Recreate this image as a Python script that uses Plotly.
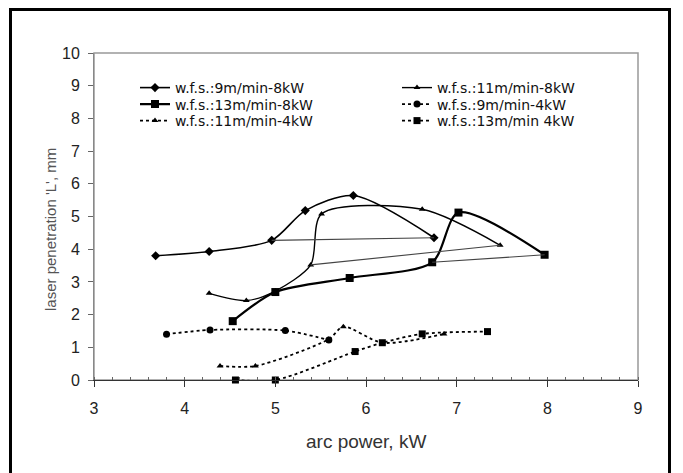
import plotly.graph_objects as go

# ---- data ----
x_9m_8kw = [3.68, 4.27, 4.96, 5.33, 5.86, 6.75]
y_9m_8kw = [3.80, 3.93, 4.27, 5.18, 5.64, 4.35]
x_11m_8kw = [4.27, 4.68, 5.00, 5.39, 5.51, 6.62, 7.48]
y_11m_8kw = [2.65, 2.43, 2.72, 3.52, 5.08, 5.22, 4.12]
x_13m_8kw = [4.53, 5.00, 5.82, 6.73, 7.02, 7.97]
y_13m_8kw = [1.80, 2.69, 3.12, 3.60, 5.12, 3.83]
x_9m_4kw = [3.80, 4.28, 5.11, 5.59]
y_9m_4kw = [1.40, 1.53, 1.51, 1.22]
x_11m_4kw = [4.39, 4.78, 5.59, 5.75, 6.18, 6.86]
y_11m_4kw = [0.43, 0.43, 1.25, 1.63, 1.14, 1.41]
x_13m_4kw = [4.56, 5.00, 5.88, 6.18, 6.62, 7.34]
y_13m_4kw = [0.00, 0.00, 0.87, 1.14, 1.41, 1.48]
# index of the point each 8 kW curve returns to after its last point
return_idx_8kw = [2, 3, 3]

names = ["w.f.s.:9m/min-8kW", "w.f.s.:11m/min-8kW", "w.f.s.:13m/min-8kW",
         "w.f.s.:9m/min-4kW", "w.f.s.:11m/min-4kW", "w.f.s.:13m/min 4kW"]
x_ticks = [3, 4, 5, 6, 7, 8, 9]
y_ticks = list(range(0, 11))

W, H = 683, 473
L, R, T, B = 94, 45, 53, 93
pw, ph = W - L - R, H - T - B

FONT = "Liberation Sans, Arial, sans-serif"
LEG_FONT = "DejaVu Sans, sans-serif"


def px_x(p):
    return (p - L) / pw


def px_y(p):
    return (H - B - p) / ph


series = [
    (x_9m_8kw, y_9m_8kw, "solid", 1.6, "diamond", 7),
    (x_11m_8kw, y_11m_8kw, "solid", 1.4, "triangle-up", 6),
    (x_13m_8kw, y_13m_8kw, "solid", 2.2, "square", 8),
    (x_9m_4kw, y_9m_4kw, "dot", 1.8, "circle", 7),
    (x_11m_4kw, y_11m_4kw, "dot", 1.8, "triangle-up", 6),
    (x_13m_4kw, y_13m_4kw, "dot", 1.8, "square", 7),
]

fig = go.Figure()
legend_ids = ["legend", "legend2", "legend3", "legend4", "legend5", "legend6"]
for i, (xs, ys, dash, lw, sym, ms) in enumerate(series):
    fig.add_trace(go.Scatter(
        x=xs, y=ys, mode="lines+markers", name=names[i],
        line=dict(color="black", width=lw, dash=dash, shape="spline", smoothing=0.8),
        marker=dict(symbol=sym, size=ms, color="black"),
        cliponaxis=False, legend=legend_ids[i],
    ))

# return segments of the 8 kW curves
for (xs, ys, dash, lw, sym, ms), k in zip(series[:3], return_idx_8kw):
    fig.add_trace(go.Scatter(
        x=[xs[-1], xs[k]], y=[ys[-1], ys[k]], mode="lines",
        line=dict(color="#444", width=1.1), showlegend=False, hoverinfo="skip",
    ))

# legends: 3 rows x 2 columns, inside the plot area
col_x = [135, 397]
row_y = [88, 104.5, 121]
layout_legends = {}
for i, lid in enumerate(legend_ids):
    r, c = i // 2, i % 2
    layout_legends[lid] = dict(
        x=px_x(col_x[c]), xref="paper", xanchor="left",
        y=px_y(row_y[r]), yref="paper", yanchor="middle",
        bgcolor="rgba(0,0,0,0)", borderwidth=0,
        font=dict(family=LEG_FONT, size=14, color="#111"),
    )

fig.update_layout(
    width=W, height=H, autosize=False,
    margin=dict(l=L, r=R, t=T, b=B, pad=0),
    paper_bgcolor="white", plot_bgcolor="white",
    font=dict(family=FONT, color="#222"),
    showlegend=True,
    xaxis=dict(range=[3, 9], tickvals=x_ticks, ticks="outside", ticklen=6,
               tickcolor="#333", showline=True, linecolor="#333", linewidth=1,
               showgrid=False, zeroline=False, ticklabelstandoff=8,
               tickfont=dict(size=16, color="#222"),
               minor=dict(dtick=0.2, ticks="inside", ticklen=3, tickcolor="#666")),
    yaxis=dict(range=[0, 10], tickvals=y_ticks, ticks="outside", ticklen=5,
               tickcolor="#666", showline=True, linecolor="#888", linewidth=1,
               showgrid=False, zeroline=False, ticklabelstandoff=5,
               tickfont=dict(size=16, color="#222")),
    annotations=[
        dict(text="arc power, kW", xref="paper", yref="paper", x=0.5, y=px_y(441),
             xanchor="center", yanchor="middle", showarrow=False,
             font=dict(size=19, color="#333", family=FONT)),
        dict(text="laser penetration 'L', mm", xref="paper", yref="paper",
             x=px_x(50), y=px_y(230), textangle=-90, xanchor="center",
             yanchor="middle", showarrow=False,
             font=dict(size=15, color="#555", family=FONT)),
    ],
    shapes=[
        dict(type="rect", xref="paper", yref="paper", x0=0, x1=1, y0=0, y1=1,
             line=dict(color="#999", width=1.5), layer="below"),
        dict(type="rect", xref="paper", yref="paper",
             x0=px_x(10.5), x1=px_x(669.5), y0=px_y(490), y1=px_y(9.5),
             line=dict(color="black", width=3), layer="above"),
    ],
    **layout_legends,
)

fig.write_html("out.html")
